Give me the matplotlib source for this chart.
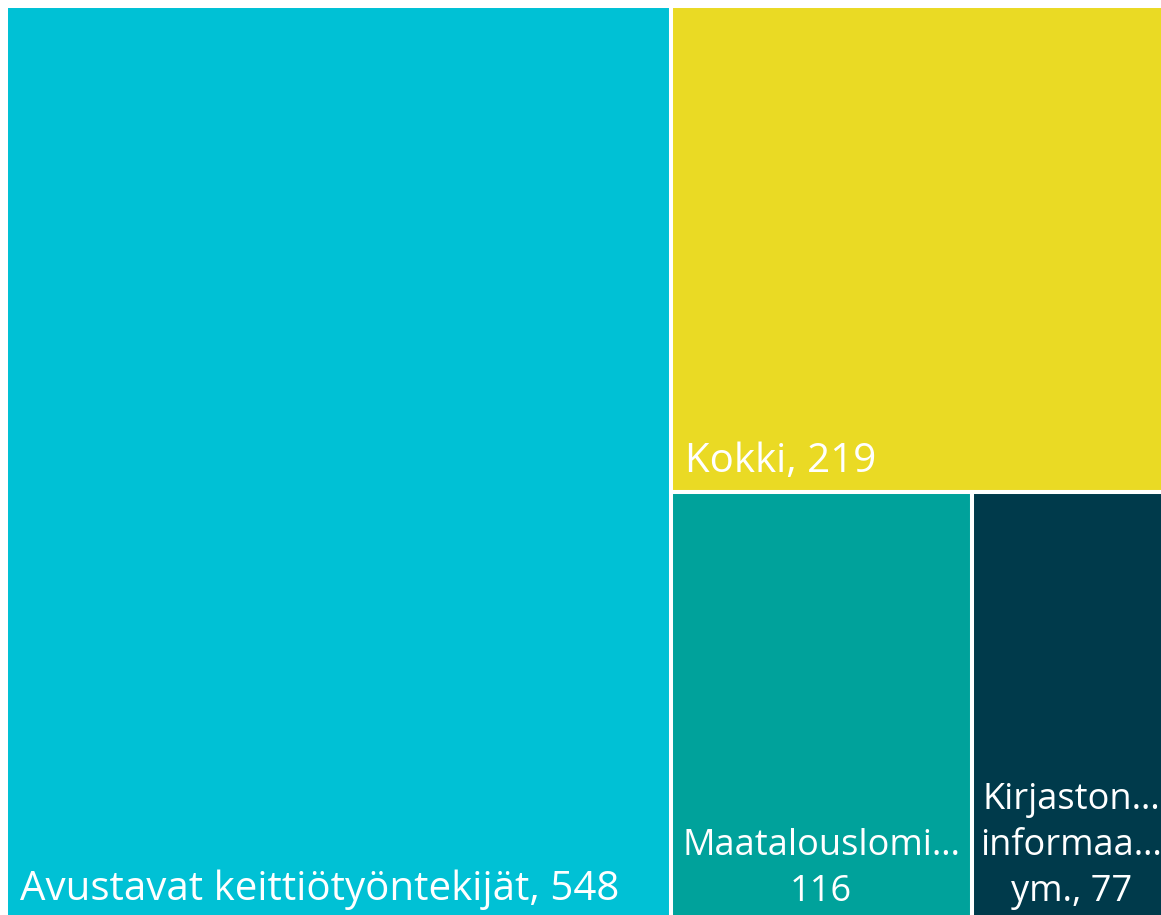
import matplotlib
matplotlib.use("Agg")
import matplotlib.pyplot as plt
from matplotlib.patches import Rectangle

plt.rcParams['font.family'] = ['Open Sans', 'DejaVu Sans']

labels = ["Avustavat keittiötyöntekijät, 548", "Kokki, 219",
          "Maatalouslomi…\n116", "Kirjaston…\ninformaa…\nym., 77"]
values = [548, 219, 116, 77]
colors = ["#00C1D5", "#EADA24", "#00A29B", "#003A4B"]

W, H = 1161, 915
fig = plt.figure(figsize=(W / 100, H / 100), dpi=100)
# the treemap runs a little past the right and bottom edges of the picture
ax = fig.add_axes([6 / W, -5 / H, 1165 / W, 914 / H])
ax.set_xlim(0, 1)
ax.set_ylim(0, 1)
ax.axis("off")

total = sum(values)
# simple slice layout: first item is a full-height column, second a
# full-width block on top of the rest, last two side by side
w0 = values[0] / total
rest = total - values[0]
h1 = values[1] / rest
bottom = values[2] + values[3]
w2 = values[2] / bottom * (1 - w0)

rects = [
    (0, 0, w0, 1),
    (w0, 1 - h1, 1 - w0, h1),
    (w0, 0, w2, 1 - h1),
    (w0 + w2, 0, 1 - w0 - w2, 1 - h1),
]

for (x, y, w, h), c in zip(rects, colors):
    ax.add_patch(Rectangle((x, y), w, h, facecolor=c, edgecolor="white",
                           linewidth=2.9, clip_on=False))

# left-aligned labels at bottom-left corner
for i in (0, 1):
    x, y, w, h = rects[i]
    ax.annotate(labels[i], (x, y), xytext=(10, 7), textcoords="offset points",
                ha="left", va="bottom", color="white", fontsize=29)
# centred labels at bottom (narrow boxes)
for i in (2, 3):
    x, y, w, h = rects[i]
    ax.annotate(labels[i], (x + w / 2, y), xytext=(0, 7.5), textcoords="offset points",
                ha="center", va="bottom", color="white", fontsize=26,
                multialignment="center", linespacing=1.37)

fig.savefig("out.png", dpi=100)
